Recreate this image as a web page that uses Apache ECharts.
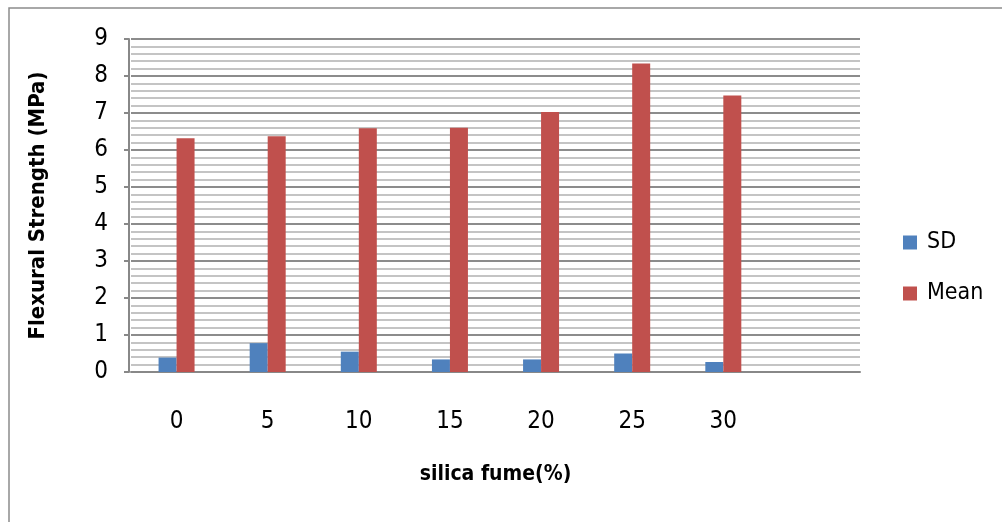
<!DOCTYPE html>
<html>
<head>
<meta charset="utf-8">
<script src="https://cdn.jsdelivr.net/npm/echarts@6/dist/echarts.min.js"></script>
<style>
html,body{margin:0;padding:0;background:#fff;}
#chart{width:1002px;height:522px;}
</style>
</head>
<body>
<div id="chart"></div>
<script>
const categories = ['0', '5', '10', '15', '20', '25', '30', ''];
const sdValues = [0.39, 0.78, 0.55, 0.34, 0.34, 0.50, 0.27, null];
const meanValues = [6.32, 6.37, 6.59, 6.60, 7.03, 8.34, 7.47, null];
const yTicks = [0, 1, 2, 3, 4, 5, 6, 7, 8, 9];

const FONT = "'Liberation Sans Narrow', 'DejaVu Sans Condensed', 'Liberation Sans', sans-serif";
const chart = echarts.init(document.getElementById('chart'));
chart.setOption({
  animation: false,
  backgroundColor: '#fff',
  graphic: [{
    type: 'rect',
    shape: {x: 9, y: 8, width: 1100, height: 600},
    style: {fill: 'none', stroke: '#8c8c8c', lineWidth: 1.5},
    silent: true, z: -1
  }],
  grid: {left: 131, right: 142, top: 39, bottom: 150},
  legend: {
    orient: 'vertical',
    left: 898, top: 226,
    itemWidth: 14, itemHeight: 14,
    itemGap: 28,
    icon: 'rect',
    textStyle: {fontFamily: FONT, fontSize: 23, color: '#000', padding: [0, 0, 0, 5]},
    data: ['SD', 'Mean']
  },
  xAxis: {
    type: 'category',
    data: categories,
    name: 'silica fume(%)',
    nameLocation: 'middle',
    nameGap: 92,
    nameTextStyle: {fontFamily: FONT, fontSize: 21, fontWeight: 'bold', color: '#000'},
    axisLine: {show: true, lineStyle: {color: '#888', width: 2}},
    axisTick: {show: false},
    axisLabel: {fontFamily: FONT, fontSize: 24, color: '#000', margin: 38, interval: 0},
    splitLine: {show: false}
  },
  yAxis: {
    type: 'value',
    min: 0, max: 9, interval: 1,
    offset: 2,
    name: 'Flexural Strength (MPa)',
    nameLocation: 'middle',
    nameGap: 80,
    nameTextStyle: {fontFamily: FONT, fontSize: 22, fontWeight: 'bold', color: '#000'},
    axisLine: {show: true, lineStyle: {color: '#888', width: 2}},
    axisTick: {show: true, length: 5, lineStyle: {color: '#888', width: 2}},
    axisLabel: {
      fontFamily: FONT, fontSize: 24, color: '#000', margin: 21,
      formatter: v => yTicks.includes(v) ? String(v) : ''
    },
    splitLine: {show: true, lineStyle: {color: '#8c8c8c', width: 2}},
    minorTick: {show: false, splitNumber: 5},
    minorSplitLine: {show: true, lineStyle: {color: '#c4c4c4', width: 2}}
  },
  series: [
    {name: 'SD', type: 'bar', data: sdValues, barWidth: 18, barGap: '0%',
     itemStyle: {color: '#4F81BD'}},
    {name: 'Mean', type: 'bar', data: meanValues, barWidth: 18, barGap: '0%',
     itemStyle: {color: '#C0504D'}}
  ]
});
</script>
</body>
</html>
